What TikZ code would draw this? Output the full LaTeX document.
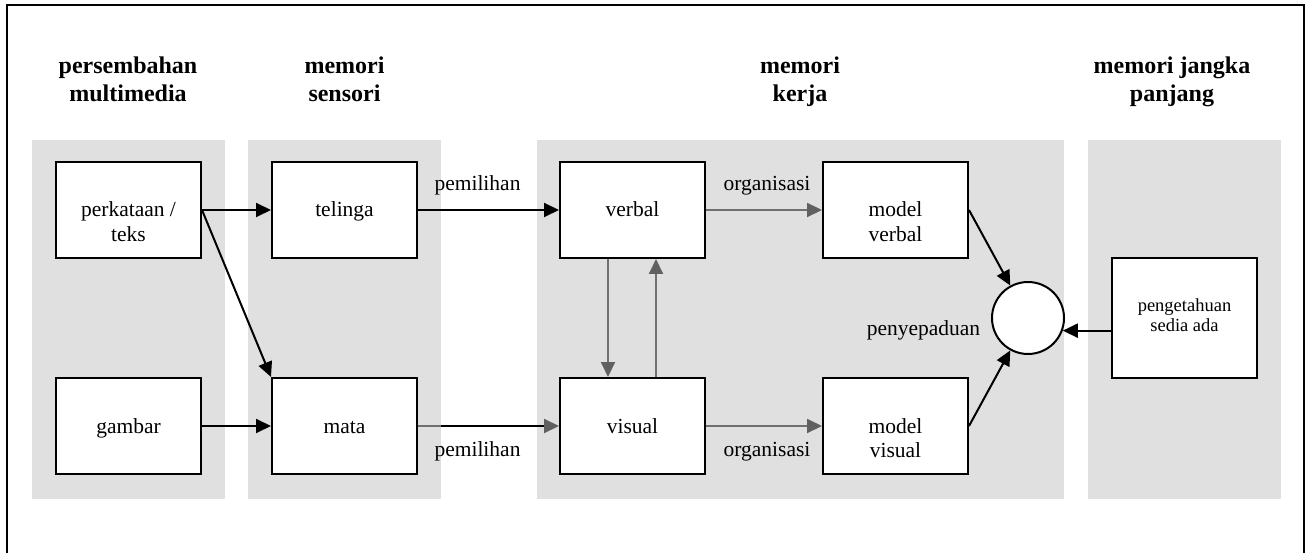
\documentclass[tikz,border=0pt]{standalone}
\usepackage{fontspec}
\setmainfont{Liberation Serif}
\usetikzlibrary{arrows.meta,calc}

\definecolor{panelgray}{RGB}{224,224,224}
\definecolor{flowgray}{RGB}{112,112,112}
\definecolor{headgray}{RGB}{96,96,96}

% centred lines whose baseline is the baseline of the first line
\newcommand{\stacktext}[1]{\begin{tabular}[t]{@{}c@{}}#1\end{tabular}}

\tikzset{
  panel/.style={fill=panelgray, draw=none},
  stage/.style={draw=black, line width=2pt, fill=white,
    minimum width=145pt, minimum height=96pt, inner sep=0pt},
  boxtext/.style={anchor=base, inner sep=0pt, font=\fontsize{21.5}{24.5}\selectfont},
  smalltext/.style={anchor=base, inner sep=0pt, font=\fontsize{18.5}{20.5}\selectfont},
  heading/.style={anchor=base, inner sep=0pt, font=\fontsize{24}{27.5}\selectfont\bfseries},
  tag/.style={anchor=base, inner sep=0pt, font=\fontsize{21.5}{24.5}\selectfont},
  flow/.style={line width=2pt, draw=black, -{Triangle[length=15pt,width=14pt]}},
  greyflow/.style={line width=2pt, draw=flowgray,
    -{Triangle[length=15pt,width=14pt,color=headgray]}},
}

\begin{document}
\begin{tikzpicture}[x=1pt,y=-1pt]
\useasboundingbox (0,0) rectangle (1311,553);
\clip (0,0) rectangle (1311,553);

% outer frame, its lower edge runs past the page
\draw[line width=2.5pt] (7,5) rectangle (1304,575);

% shaded stage panels
\fill[panel] (32,140) rectangle (225,499);
\fill[panel] (248,140) rectangle (441,499);
\fill[panel] (537,140) rectangle (1064,499);
\fill[panel] (1088,140) rectangle (1281,499);

% column headings
\node[heading] (h1) at (128,74) {\stacktext{persembahan\\multimedia}};
\node[heading] (h2) at (344.5,74) {\stacktext{memori\\sensori}};
\node[heading] (h3) at (800,74) {\stacktext{memori\\kerja}};
\node[heading] (h4) at (1172,74) {\stacktext{memori jangka\\panjang}};

% boxes
\node[stage] (pt) at (128.5,210) {};
\node[stage] (gb) at (128.5,426) {};
\node[stage] (tl) at (344.5,210) {};
\node[stage] (mt) at (344.5,426) {};
\node[stage] (vb) at (632.5,210) {};
\node[stage] (vs) at (632.5,426) {};
\node[stage] (mvb) at (895.5,210) {};
\node[stage] (mvs) at (895.5,426) {};
\node[stage, minimum height=120pt] (pk) at (1184.5,318) {};
\node[circle, draw=black, line width=2pt, fill=white, minimum size=72pt,
  inner sep=0pt] (ig) at (1028,318) {};

% box texts
\node[boxtext] (tpt) at ($(pt.center)+(0,7)$) {\stacktext{perkataan /\\teks}};
\node[boxtext] (tgb) at ($(gb.center)+(0,7)$) {gambar};
\node[boxtext] (ttl) at ($(tl.center)+(0,7)$) {telinga};
\node[boxtext] (tmt) at ($(mt.center)+(0,7)$) {mata};
\node[boxtext] (tvb) at ($(vb.center)+(0,7)$) {verbal};
\node[boxtext] (tvs) at ($(vs.center)+(0,7)$) {visual};
\node[boxtext] (tmvb) at ($(mvb.center)+(0,7)$) {\stacktext{model\\verbal}};
\node[boxtext] (tmvs) at ($(mvs.center)+(0,7)$) {\stacktext{model\\visual}};
\node[smalltext] (tpk) at ($(pk.center)+(0,-6.5)$) {\stacktext{pengetahuan\\sedia ada}};

% connectors
\draw[flow] (pt.east) -- (tl.west);
\draw[flow] (pt.east) -- (mt.north west);
\draw[flow] (gb.east) -- (mt.west);
\draw[flow] (tl.east) -- (vb.west);
\draw[line width=2pt, draw=black, -{Triangle[length=15pt,width=14pt,color=headgray]}]
  (mt.east) -- (vs.west);
\coordinate (edge2) at (441,426);
\draw[line width=2pt, draw=flowgray] (mt.east) -- (edge2);

\draw[greyflow] ([xshift=-24.5pt]vb.south) -- ([xshift=-24.5pt]vs.north);
\draw[greyflow] ([xshift=23.5pt]vs.north) -- ([xshift=23.5pt]vb.south);
\draw[greyflow] (vb.east) -- (mvb.west);
\draw[greyflow] (vs.east) -- (mvs.west);

\draw[flow] (mvb.east) -- (ig);
\draw[flow] (mvs.east) -- (ig);
\draw[flow] (pk.west |- ig.-20) -- (ig.-20);

% connector labels
\node[tag] (l1) at (477.5,191) {pemilihan};
\node[tag] (l2) at (477.5,456) {pemilihan};
\node[tag] (l3) at (767,191) {organisasi};
\node[tag] (l4) at (767,456) {organisasi};
\node[tag] (l5) at (923.5,335) {penyepaduan};
\end{tikzpicture}
\end{document}
